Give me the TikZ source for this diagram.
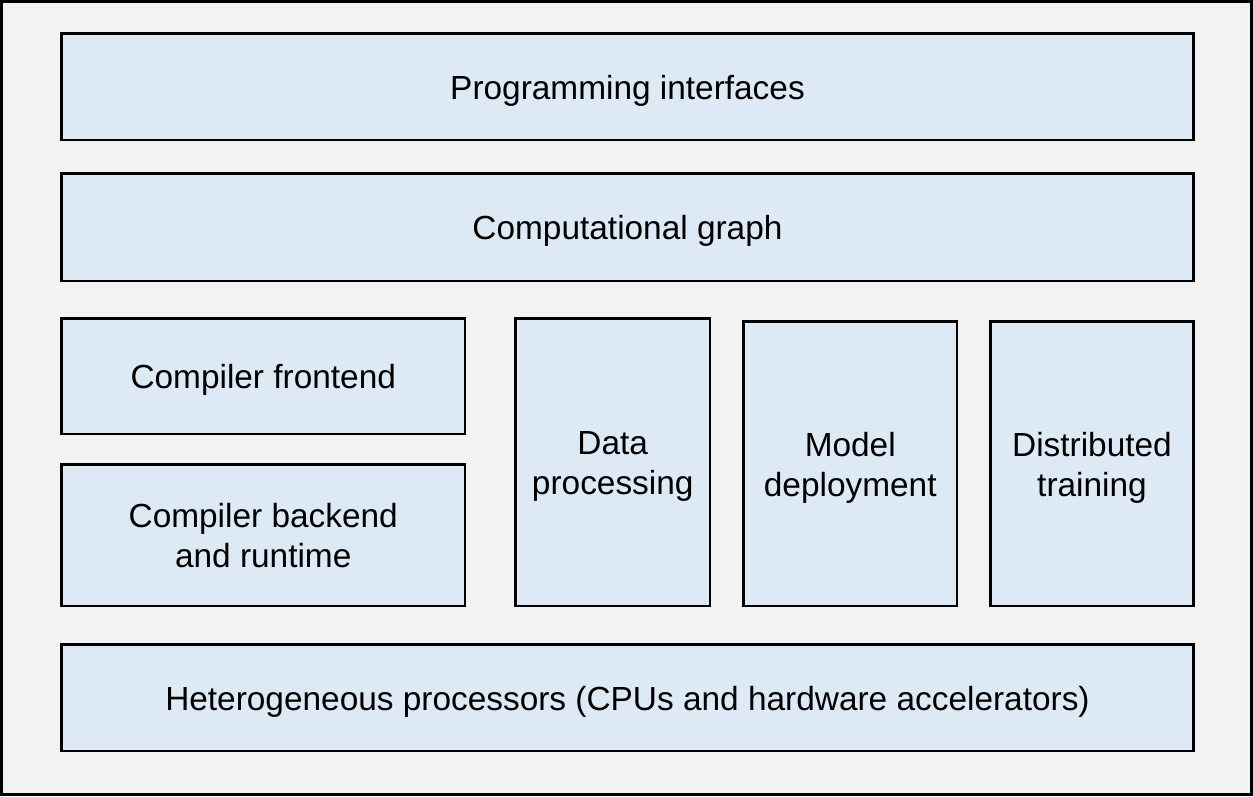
\documentclass[tikz,border=0pt]{standalone}
\usepackage{fontspec}
\setmainfont{Liberation Sans}
\definecolor{boxfill}{HTML}{DDE9F5}
\definecolor{bgfill}{HTML}{F2F2F2}
\begin{document}
\begin{tikzpicture}[x=1pt,y=-1pt,
  layer/.style={draw=black, line width=2.6pt, fill=boxfill},
  lbl/.style={font=\fontsize{33.4}{40}\selectfont, align=center, inner sep=0pt, yshift=-4pt}]
\useasboundingbox (0,0) rectangle (1253,796);
\draw[line width=3pt, fill=bgfill] (1.5,1.5) rectangle (1251.5,794.5);
\draw[layer] (61.5,33.5) rectangle (1193.5,140) node[lbl, pos=0.5] (pi) {Programming interfaces};
\draw[layer] (61.5,173.5) rectangle (1193.5,281) node[lbl, pos=0.5] (cg) {Computational graph};
\draw[layer] (61.5,318.5) rectangle (465,434) node[lbl, pos=0.5] (cf) {Compiler frontend};
\draw[layer] (61.5,464.5) rectangle (465,606) node[lbl, pos=0.5, yshift=4pt] (cb) {Compiler backend\\and runtime};
\draw[layer] (515.5,318.5) rectangle (710,606) node[lbl, pos=0.5] (dp) {Data\\processing};
\draw[layer] (743.5,321.5) rectangle (957,606) node[lbl, pos=0.5] (md) {Model\\deployment};
\draw[layer] (990.5,321.5) rectangle (1193.5,606) node[lbl, pos=0.5] (dt) {Distributed\\training};
\draw[layer] (61.5,644.5) rectangle (1193.5,751) node[lbl, pos=0.5] (hp) {Heterogeneous processors (CPUs and hardware accelerators)};
\end{tikzpicture}
\end{document}
